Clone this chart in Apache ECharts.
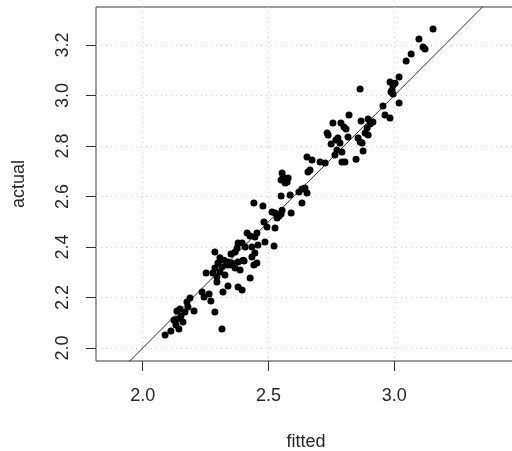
<!DOCTYPE html>
<html>
<head>
<meta charset="utf-8">
<script src="https://cdn.jsdelivr.net/npm/echarts@6/dist/echarts.min.js"></script>
<style>
  html, body { margin: 0; padding: 0; background: #fff; }
  #chart { width: 512px; height: 451px; }
</style>
</head>
<body>
<div id="chart"></div>
<script>
// Fitted vs. actual values with the identity reference line (intercept 0, slope 1)
const fitted = [
  2.089, 2.112, 2.144, 2.132, 2.124, 2.140, 2.160, 2.152, 2.136, 2.148,
  2.168, 2.180, 2.204, 2.188, 2.176, 2.236, 2.244, 2.264, 2.271, 2.287,
  2.315, 2.252, 2.279, 2.287, 2.295, 2.299, 2.307, 2.315, 2.295, 2.327,
  2.335, 2.355, 2.367, 2.387, 2.379, 2.287, 2.319, 2.339, 2.379, 2.395,
  2.427, 2.403, 2.434, 2.442, 2.351, 2.367, 2.375, 2.379, 2.395, 2.407,
  2.415, 2.427, 2.446, 2.454, 2.434, 2.458, 2.486, 2.522, 2.446, 2.399,
  2.454, 2.323, 2.339, 2.347, 2.442, 2.478, 2.482, 2.494, 2.526, 2.514,
  2.526, 2.542, 2.534, 2.550, 2.554, 2.590, 2.550, 2.586, 2.633, 2.621,
  2.633, 2.645, 2.653, 2.554, 2.558, 2.550, 2.574, 2.578, 2.566, 2.653,
  2.673, 2.705, 2.725, 2.665, 2.657, 2.733, 2.737, 2.776, 2.784, 2.749,
  2.772, 2.764, 2.792, 2.792, 2.804, 2.848, 2.876, 2.864, 2.983, 3.003,
  2.987, 2.995, 3.019, 2.955, 2.963, 2.983, 2.820, 2.896, 2.915, 2.904,
  2.868, 2.756, 2.788, 2.800, 2.808, 2.892, 2.884, 2.896, 2.856, 2.864,
  2.872, 2.768, 2.816, 3.019, 2.995, 2.991, 3.047, 3.067, 3.098, 3.114,
  3.122, 3.154, 2.307
];
const actual = [
  2.051, 2.067, 2.075, 2.091, 2.111, 2.115, 2.103, 2.127, 2.147, 2.154,
  2.143, 2.162, 2.147, 2.198, 2.182, 2.222, 2.202, 2.214, 2.186, 2.143,
  2.075, 2.297, 2.297, 2.317, 2.281, 2.337, 2.301, 2.321, 2.261, 2.289,
  2.329, 2.337, 2.317, 2.309, 2.341, 2.380, 2.222, 2.246, 2.242, 2.230,
  2.277, 2.345, 2.360, 2.329, 2.372, 2.380, 2.396, 2.416, 2.416, 2.400,
  2.455, 2.444, 2.440, 2.455, 2.400, 2.408, 2.420, 2.404, 2.376, 2.348,
  2.337, 2.348, 2.341, 2.329, 2.574, 2.562, 2.499, 2.479, 2.475, 2.539,
  2.535, 2.523, 2.515, 2.531, 2.546, 2.535, 2.602, 2.606, 2.574, 2.618,
  2.630, 2.634, 2.614, 2.693, 2.677, 2.665, 2.657, 2.673, 2.653, 2.756,
  2.745, 2.737, 2.733, 2.705, 2.697, 2.851, 2.844, 2.832, 2.812, 2.808,
  2.784, 2.764, 2.776, 2.737, 2.737, 2.748, 2.780, 3.026, 3.053, 3.049,
  3.014, 3.006, 2.970, 2.958, 2.923, 2.911, 2.923, 2.907, 2.895, 2.887,
  2.899, 2.891, 2.891, 2.875, 2.867, 2.871, 2.851, 2.844, 2.832, 2.816,
  2.812, 2.824, 2.836, 3.073, 3.041, 3.022, 3.137, 3.164, 3.224, 3.192,
  3.184, 3.263, 2.357
];

// Tick positions on each axis
const xTicks = [2.0, 2.5, 3.0];
const yTicks = [2.0, 2.2, 2.4, 2.6, 2.8, 3.0, 3.2];

// Plotting ranges
const xRange = [1.8144, 3.4837];
const yRange = [1.9485, 3.3505];

// Reference line: actual = intercept + slope * fitted
const refIntercept = 0;
const refSlope = 1;

const points = fitted.map((f, i) => [f, actual[i]]);
const refLine = [xRange[0] - 0.2, xRange[1] + 0.2].map(x => [x, refIntercept + refSlope * x]);

const textColor = '#262626';
const fontFamily = '"Liberation Sans", Arial, Helvetica, sans-serif';
const fontSize = 18;
const gridLine = { show: true, lineStyle: { color: '#cfcfcf', width: 1, type: [1, 4] } };

const chart = echarts.init(document.getElementById('chart'), null, { renderer: 'canvas' });
chart.setOption({
  animation: false,
  backgroundColor: '#fff',
  grid: {
    left: 96, top: 7, right: -4, bottom: 90,
    containLabel: false, outerBoundsMode: 'none',
    show: true, borderColor: '#3a3a3a', borderWidth: 1, backgroundColor: 'transparent'
  },
  xAxis: {
    type: 'value', min: xRange[0], max: xRange[1],
    name: 'fitted', nameLocation: 'middle', nameGap: 72,
    nameTextStyle: { color: textColor, fontSize: fontSize, fontFamily: fontFamily },
    axisLine: { show: false },
    axisTick: { show: true, length: 10, inside: false, customValues: xTicks, lineStyle: { color: '#333' } },
    axisLabel: {
      customValues: xTicks, margin: 26, color: textColor, fontSize: fontSize, fontFamily: fontFamily,
      formatter: v => v.toFixed(1)
    },
    splitLine: gridLine
  },
  yAxis: {
    type: 'value', min: yRange[0], max: yRange[1],
    name: 'actual', nameLocation: 'middle', nameGap: 68, nameRotate: 90,
    nameTextStyle: { color: textColor, fontSize: fontSize, fontFamily: fontFamily },
    axisLine: { show: false },
    axisTick: { show: true, length: 10, inside: false, customValues: yTicks, lineStyle: { color: '#333' } },
    axisLabel: {
      customValues: yTicks, rotate: 90, margin: 24, color: textColor, fontSize: fontSize, fontFamily: fontFamily,
      formatter: v => v.toFixed(1)
    },
    splitLine: gridLine
  },
  series: [
    {
      type: 'line', data: refLine, showSymbol: false, silent: true,
      lineStyle: { color: '#333', width: 1 }, clip: true, z: 3
    },
    {
      type: 'scatter', data: points, symbol: 'circle', symbolSize: 7,
      itemStyle: { color: '#000', opacity: 1 }, z: 4
    }
  ]
});
</script>
</body>
</html>
